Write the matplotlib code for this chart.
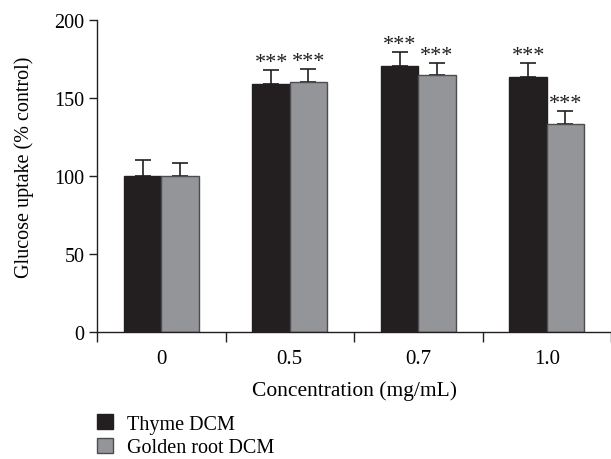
import matplotlib
matplotlib.use("Agg")
import matplotlib.pyplot as plt
import numpy as np
from matplotlib.patches import Patch

categories = ["0", "0.5", "0.7", "1.0"]
series_names = ["Thyme DCM", "Golden root DCM"]
thyme = [100, 159, 170.5, 163.5]
thyme_err = [10.4, 9, 9, 8.7]
golden = [100, 160.5, 164.5, 133.5]
golden_err = [8.5, 8, 8, 8.2]
thyme_sig = ["", "***", "***", "***"]
golden_sig = ["", "***", "***", "***"]

plt.rcParams['font.family'] = ['Liberation Serif', 'DejaVu Serif']

fig = plt.figure(figsize=(6.11, 4.60), dpi=100)
ax = fig.add_axes([97/611, 1-333/460, 1-97/611, (333-21)/460])

x = np.arange(len(categories))
w = 0.29
dark = "#231f20"
gray = "#939598"

ax.bar(x - w/2, thyme, w, color=dark, edgecolor=dark, linewidth=1, zorder=2)
ax.bar(x + w/2, golden, w, color=gray, edgecolor="#4d4d4f", linewidth=1, zorder=2)
ax.errorbar(x - w/2, thyme, yerr=[np.zeros(len(thyme)), thyme_err], fmt='none',
            ecolor=dark, elinewidth=1.2, capsize=6, capthick=1.2, zorder=1)
ax.errorbar(x + w/2, golden, yerr=[np.zeros(len(golden)), golden_err], fmt='none',
            ecolor=dark, elinewidth=1.2, capsize=6, capthick=1.2, zorder=1)

for i in range(len(categories)):
    if thyme_sig[i]:
        ax.text(x[i] - w/2, thyme[i] + thyme_err[i] + 5, thyme_sig[i], ha='center', va='center',
                fontsize=16, color=dark)
    if golden_sig[i]:
        ax.text(x[i] + w/2, golden[i] + golden_err[i] + 5, golden_sig[i], ha='center', va='center',
                fontsize=16, color=dark)

ax.set_ylim(0, 200)
ax.set_xlim(-0.5, 3.44)
ax.set_yticks([0, 50, 100, 150, 200])
ax.set_xticks([-0.5, 0.5, 1.5, 2.5, 3.5])
ax.set_xticklabels([])
ax.set_xticks(x, minor=True)
ax.set_xticklabels(categories, minor=True)
ax.tick_params(axis='x', which='minor', length=0, pad=12, labelsize=15)
ax.tick_params(axis='x', which='major', length=7, width=1, color=dark)
ax.tick_params(axis='y', length=6, width=1, color=dark, labelsize=14.5, pad=3)
for s in ['top', 'right']:
    ax.spines[s].set_visible(False)
for s in ['left', 'bottom']:
    ax.spines[s].set_linewidth(1)
    ax.spines[s].set_color(dark)

ax.set_ylabel("Glucose uptake (% control)", fontsize=14.5)
ax.yaxis.set_label_coords(-0.122, 0.53)
ax.set_xlabel("Concentration (mg/mL)", fontsize=15.5, labelpad=9)

handles = [Patch(facecolor=dark, edgecolor=dark), Patch(facecolor=gray, edgecolor="#4d4d4f")]
fig.legend(handles, series_names, loc='upper left', bbox_to_anchor=(89/611, 1-407/460),
           frameon=False, fontsize=14.5, handlelength=0.8, handleheight=0.8,
           handletextpad=0.7, labelspacing=0.2, borderaxespad=0)

fig.savefig("out.png", dpi=100)
